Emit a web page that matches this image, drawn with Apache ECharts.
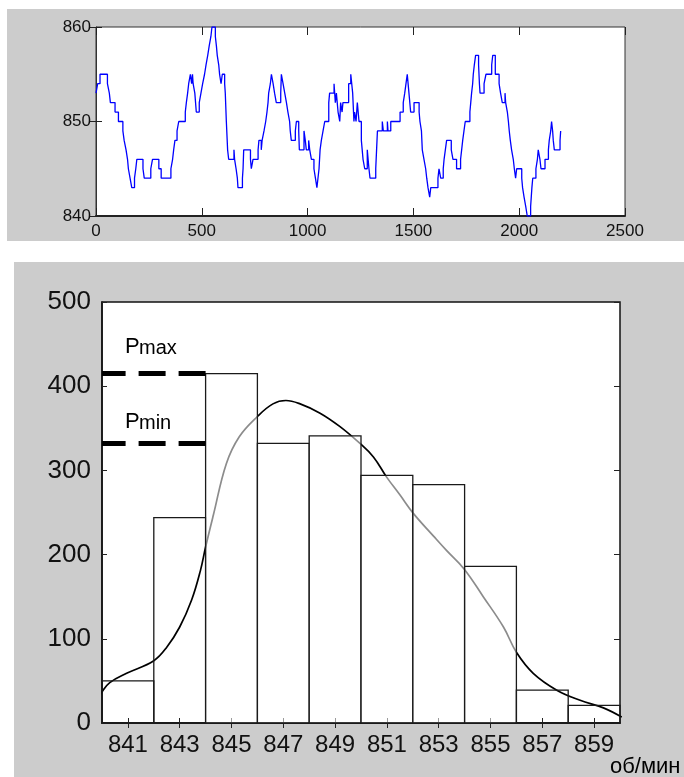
<!DOCTYPE html>
<html>
<head>
<meta charset="utf-8">
<script src="https://cdn.jsdelivr.net/npm/echarts@6/dist/echarts.min.js"></script>
<style>
html, body { margin: 0; padding: 0; background: #fff; }
#main { width: 684px; height: 777px; }
</style>
</head>
<body>
<div id="main"></div>
<script>
// верхний график: обороты по отсчётам, точки смены уровня (ступеньки)
var traceX = [0, 8, 19, 54, 63, 68, 90, 106, 127, 133, 142, 149, 153, 161, 169, 182, 188, 193, 222, 228, 259, 267, 297, 308,
    354, 362, 367, 373, 383, 391, 422, 427, 433, 438, 446, 452, 456, 459, 467, 474, 488, 496, 504, 513, 520, 528, 535, 543,
    548, 564, 569, 573, 580, 584, 591, 597, 608, 611, 616, 622,
    627, 652, 655, 662, 668, 671, 692, 695, 698, 730, 734, 742, 766, 770, 781, 785, 794, 802, 808, 813, 816, 824, 829, 837,
    844, 852, 873, 876, 884, 892, 900, 907, 915, 918, 923, 942, 947, 958, 961, 983, 989, 994, 1005, 1010, 1018, 1030, 1037,
    1044, 1049, 1054, 1059, 1065, 1073, 1081, 1100, 1104, 1125, 1131, 1136, 1144, 1152, 1156, 1163, 1167, 1194, 1204, 1213,
    1219, 1222, 1229, 1235, 1243, 1254, 1262, 1270,
    1282, 1290, 1295, 1322, 1326, 1330, 1353, 1358, 1377, 1380, 1393, 1437, 1452, 1459, 1465, 1471, 1479, 1487, 1503, 1527,
    1531, 1538, 1542, 1550, 1558, 1563, 1569, 1577, 1582, 1616, 1621, 1629, 1641, 1645, 1651, 1657, 1679, 1687, 1704, 1723,
    1728, 1733, 1739, 1745, 1767, 1771, 1775, 1780, 1783, 1788, 1794, 1808, 1812, 1815, 1834, 1843, 1870, 1875,
    1887, 1905, 1912, 1920, 1933, 1936, 1944, 1949, 1953, 1958, 1964, 1972, 1977, 1983, 1988, 2012, 2016, 2023, 2031, 2038,
    2054, 2057, 2060, 2064, 2079, 2086, 2090, 2098, 2103, 2122, 2138, 2142, 2149, 2153, 2158, 2161, 2166, 2193, 2196];
var traceRpm = [853, 854, 855, 854, 853, 852, 851, 850, 849, 848, 847, 846, 845, 844, 843, 844, 845, 846, 845, 844, 845, 846, 845, 844,
    845, 846, 847, 848, 849, 850, 851, 852, 853, 854, 855, 854, 855, 854, 853, 851, 852, 853, 854, 855, 856, 857, 858, 859,
    860, 859, 858, 857, 856, 855, 854, 855, 854, 853, 850, 847,
    846, 847, 846, 845, 844, 843, 844, 845, 847, 846, 845, 846, 847, 848, 847, 848, 849, 850, 851, 852, 853, 854, 855, 854,
    853, 852, 853, 855, 854, 853, 852, 851, 850, 849, 848, 849, 850, 849, 847, 849, 848, 847, 848, 847, 846, 845, 844,
    843, 844, 845, 847, 848, 849, 850, 852, 853, 854, 852, 853, 851, 850, 852, 851, 852, 854, 855, 853,
    850, 851, 850, 852, 850, 848, 846, 845,
    847, 845, 844, 845, 847, 849, 850, 849, 850, 849, 850, 851, 852, 853, 854, 855, 853, 851, 852, 851,
    850, 849, 847, 846, 845, 844, 843, 842, 843, 844, 845, 844, 845, 846, 847, 848, 847, 846, 845, 846,
    847, 848, 849, 850, 851, 852, 853, 854, 855, 856, 857, 856, 854, 853, 854, 855, 856, 857,
    855, 854, 853, 852, 853, 852, 851, 850, 849, 848, 847, 846, 845, 844, 845, 844, 843, 842, 841, 840,
    841, 842, 843, 844, 845, 846, 847, 846, 845, 846, 847, 848, 849, 850, 849, 848, 847, 848, 849];

// нижний график: гистограмма (интервалы по 2 об/мин)
var binCenters = [841, 843, 845, 847, 849, 851, 853, 855, 857, 859];
var binCounts = [50, 244, 415, 332, 341, 294, 283, 186, 39, 21];
// сглаженная кривая распределения
var curveX = [839.8, 840.0, 840.3, 840.95, 842.0, 842.5, 843.0, 843.46, 843.8, 844.0, 844.3, 844.8, 845.3, 846.0, 846.6,
    847.1, 847.65, 848.42, 849.19, 849.96, 850.48, 850.99, 851.5, 852.02, 852.8, 853.3, 853.98, 854.72, 855.5, 856.0,
    856.65, 857.56, 858.46, 859.36, 860.07];
var curveY = [26, 37, 48, 59, 74, 90, 114, 146, 181, 209, 247, 308, 340, 364, 379,
    383, 379, 368, 352, 332, 316, 292, 271, 249, 222, 205, 183, 150, 114, 84,
    59, 39, 27, 18, 7];

var pMax = Math.max.apply(null, binCounts);   // уровень Pmax
var pMin = binCounts[3];                      // уровень Pmin
var pEnd = binCenters[binCounts.indexOf(pMax)] - 1; // пунктир до левого края высшего столбца

// узкого шрифта нет, берём самый узкий из установленных
var labelFont = "'Liberation Sans Narrow', 'Liberation Sans', Arial, sans-serif";
var plain = "'Liberation Sans', Arial, sans-serif";

function zip(a, b) {
    var out = [];
    for (var i = 0; i < a.length; i++) out.push([a[i], b[i]]);
    return out;
}

var chart = echarts.init(document.getElementById('main'));

// оси-рамки: только засечки внутрь
var boxAxis = function (extra) {
    var base = {
        axisLine: { show: false },
        splitLine: { show: false },
        axisLabel: { show: false },
        axisTick: { show: true, inside: true, length: 5, lineStyle: { color: '#222', width: 1 } }
    };
    return Object.assign(base, extra);
};

var plainNum = function (v) { return String(v); };

var option = {
    backgroundColor: '#fff',
    animation: false,
    grid: [
        { left: 96, top: 27, width: 529, height: 189, show: true, backgroundColor: '#fff', borderColor: '#333', borderWidth: 1 },
        { left: 102, top: 302, width: 518, height: 421, show: true, backgroundColor: '#fff', borderColor: '#111', borderWidth: 1.5 }
    ],
    xAxis: [
        boxAxis({
            gridIndex: 0, type: 'value', min: 0, max: 2500, interval: 500,
            axisLine: { show: true, onZero: false, lineStyle: { color: '#222', width: 2 } },
            axisTick: { show: true, inside: true, length: 8, lineStyle: { color: '#222' } },
            axisLabel: { show: true, fontFamily: labelFont, fontSize: 17, color: '#111', margin: 7, formatter: plainNum }
        }),
        boxAxis({ gridIndex: 0, type: 'value', position: 'top', min: 0, max: 2500, interval: 500,
            axisTick: { show: true, inside: true, length: 8, lineStyle: { color: '#222' } } }),
        boxAxis({
            gridIndex: 1, type: 'value', min: 840, max: 860,
            axisLine: { show: true, onZero: false, lineStyle: { color: '#111', width: 1.5 } },
            axisTick: { show: true, inside: true, length: 5, customValues: binCenters, lineStyle: { color: '#222' } },
            axisLabel: { show: true, customValues: binCenters, fontFamily: labelFont, fontSize: 24, color: '#111', margin: 10, formatter: plainNum }
        }),
        boxAxis({ gridIndex: 1, type: 'value', position: 'top', min: 840, max: 860,
            axisTick: { show: true, inside: true, length: 5, customValues: binCenters, lineStyle: { color: '#222' } } })
    ],
    yAxis: [
        boxAxis({
            gridIndex: 0, type: 'value', min: 840, max: 860, interval: 10,
            axisLine: { show: true, lineStyle: { color: '#333', width: 1 } },
            axisTick: { show: true, inside: true, length: 6, lineStyle: { color: '#222' } },
            axisLabel: { show: true, fontFamily: labelFont, fontSize: 17, color: '#111', margin: 5 }
        }),
        boxAxis({ gridIndex: 0, type: 'value', position: 'right', min: 840, max: 860, interval: 10,
            axisTick: { show: true, inside: true, length: 6, lineStyle: { color: '#222' } } }),
        boxAxis({
            gridIndex: 1, type: 'value', min: 0, max: 500, interval: 100,
            axisLine: { show: true, lineStyle: { color: '#111', width: 1.5 } },
            axisTick: { show: true, inside: true, length: 5, lineStyle: { color: '#222' } },
            axisLabel: { show: true, fontFamily: labelFont, fontSize: 26, color: '#111', margin: 11 }
        }),
        boxAxis({ gridIndex: 1, type: 'value', position: 'right', min: 0, max: 500, interval: 100,
            axisTick: { show: true, inside: true, length: 6, lineStyle: { color: '#222' } } })
    ],
    series: [
        {
            // сигнал оборотов
            type: 'line', xAxisIndex: 0, yAxisIndex: 0,
            data: zip(traceX, traceRpm),
            step: 'end', showSymbol: false, symbol: 'none',
            lineStyle: { color: '#0000ff', width: 1.3 },
            z: 3
        },
        {
            // кривая плотности
            type: 'line', xAxisIndex: 2, yAxisIndex: 2,
            data: zip(curveX, curveY),
            smooth: 0.4, symbol: 'none', clip: false,
            lineStyle: { color: '#000', width: 1.7 },
            z: 2
        },
        {
            // столбцы гистограммы
            type: 'custom', xAxisIndex: 2, yAxisIndex: 2,
            data: zip(binCenters, binCounts),
            renderItem: function (params, api) {
                var c = api.value(0);
                var p0 = api.coord([c - 1, api.value(1)]);
                var p1 = api.coord([c + 1, 0]);
                // средние столбцы чуть приглушают кривую под собой
                var fill = (c >= 845 && c <= 855) ? 'rgba(255,255,255,0.55)' : 'rgba(255,255,255,0)';
                return {
                    type: 'rect',
                    shape: { x: p0[0], y: p0[1], width: p1[0] - p0[0], height: p1[1] - p0[1] },
                    style: { fill: fill, stroke: '#1a1a1a', lineWidth: 1.3 }
                };
            },
            z: 3
        },
        {
            type: 'line', xAxisIndex: 2, yAxisIndex: 2,
            data: [[pEnd, pMax], [840, pMax]],
            symbol: 'none', clip: false,
            lineStyle: { color: '#000', width: 5, type: [27, 13] },
            z: 4
        },
        {
            type: 'line', xAxisIndex: 2, yAxisIndex: 2,
            data: [[pEnd, pMin], [840, pMin]],
            symbol: 'none', clip: false,
            lineStyle: { color: '#000', width: 5, type: [27, 13] },
            z: 4
        }
    ],
    graphic: [
        { type: 'rect', z: -10, shape: { x: 7, y: 9, width: 677, height: 232 }, style: { fill: '#cccccc' } },
        { type: 'rect', z: -10, shape: { x: 14, y: 262, width: 670, height: 515 }, style: { fill: '#cccccc' } },
        // белая полоса между панелями обрезает подписи верхней оси
        { type: 'rect', z: 100, shape: { x: 0, y: 241, width: 684, height: 21 }, style: { fill: '#ffffff' } },
        { type: 'text', z: 10, style: { x: 125, y: 347, text: 'P', font: '22px ' + plain, fill: '#000', verticalAlign: 'middle' } },
        { type: 'text', z: 10, style: { x: 139, y: 348, text: 'max', font: '20px ' + plain, fill: '#000', verticalAlign: 'middle' } },
        { type: 'text', z: 10, style: { x: 125, y: 422, text: 'P', font: '22px ' + plain, fill: '#000', verticalAlign: 'middle' } },
        { type: 'text', z: 10, style: { x: 139, y: 423, text: 'min', font: '20px ' + plain, fill: '#000', verticalAlign: 'middle' } },
        { type: 'text', z: 10, style: { x: 610, y: 767, text: 'об/мин', font: '22px ' + plain, fill: '#000', verticalAlign: 'middle' } }
    ]
};

chart.setOption(option);
</script>
</body>
</html>
